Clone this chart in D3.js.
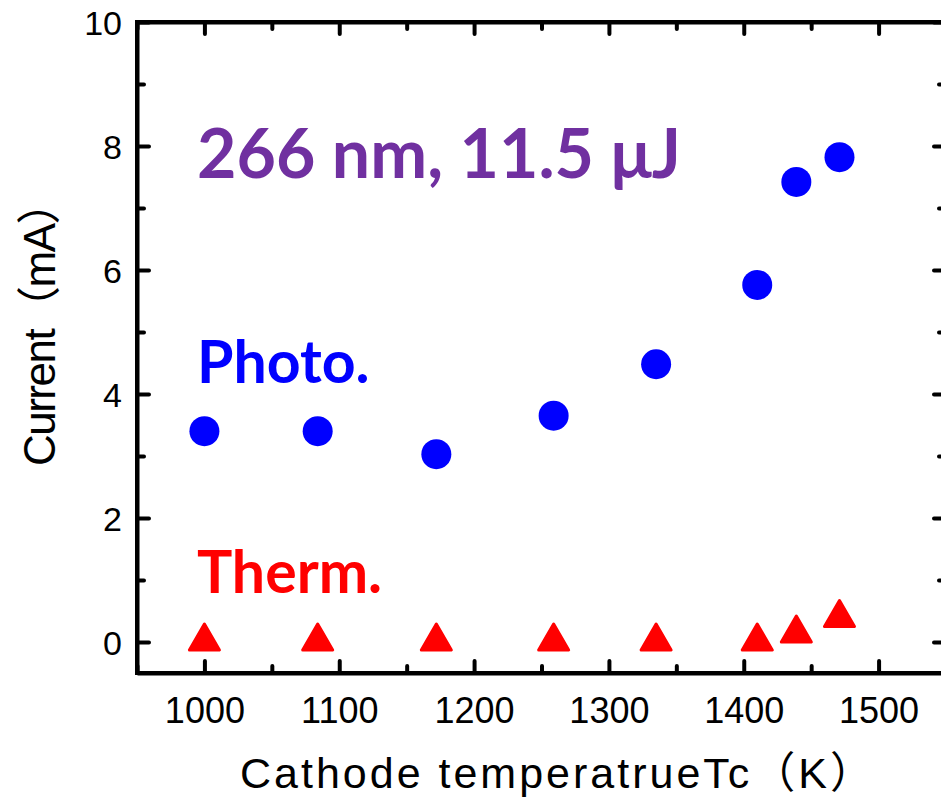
<!DOCTYPE html>
<html>
<head>
<meta charset="utf-8">
<script src="https://cdn.jsdelivr.net/npm/d3@7"></script>
<style>
  html, body { margin: 0; padding: 0; background: #fff; overflow: hidden; }
  svg { display: block; }
</style>
</head>
<body>
<script>
// ---- data ----
const photoTemps = [1000, 1084, 1172, 1259, 1335, 1410, 1439, 1471];
const photoCurrent = [3.40, 3.40, 3.03, 3.65, 4.48, 5.76, 7.42, 7.82];
const thermTemps = [1000, 1084, 1172, 1259, 1335, 1410, 1439, 1471];
const thermCurrent = [0.08, 0.08, 0.08, 0.08, 0.08, 0.08, 0.21, 0.46];
const xTicks = [1000, 1100, 1200, 1300, 1400, 1500];
const xMinorTicks = [950, 1050, 1150, 1250, 1350, 1450, 1550];
const yTicks = [0, 2, 4, 6, 8, 10];
const yMinorTicks = [1, 3, 5, 7, 9];
const xTitle = "Cathode temperatrueTc\uFF08K\uFF09";
const yTitle = "Current\uFF08mA\uFF09";
const annTitle = "266 nm, 11.5 \u03BCJ";
const annPhoto = "Photo.";
const annTherm = "Therm.";

const W = 941, H = 800;
const mLeft = 137, mRight = 946, mTop = 22, mBottom = 673;

const svg = d3.select("body").append("svg").attr("width", W).attr("height", H);

const x = d3.scaleLinear().domain([950, 1550]).range([mLeft, mRight]);
const y = d3.scaleLinear().domain([-0.5, 10]).range([mBottom, mTop]);

const axisColor = "#000";
const lw = 4;
const font = "'Liberation Sans', Arial, 'Noto Sans CJK JP', sans-serif";

function styleAxis(g) {
  g.selectAll("path.domain").attr("stroke", axisColor).attr("stroke-width", lw);
  g.selectAll(".tick line").attr("stroke", axisColor).attr("stroke-width", 4).attr("stroke-linecap", "round");
}

// bottom axis (ticks inward)
const gB = svg.append("g").attr("transform", `translate(0,${mBottom})`)
  .call(d3.axisBottom(x).tickValues(xTicks).tickSizeInner(-12).tickSizeOuter(0).tickFormat(d3.format("d")));
styleAxis(gB);
gB.selectAll(".tick text").attr("font-family", font).attr("font-size", 36).attr("fill", "#000")
  .attr("y", 50).attr("dy", 0);
svg.append("g").attr("transform", `translate(0,${mBottom})`)
  .call(d3.axisBottom(x).tickValues(xMinorTicks).tickSizeInner(-7).tickSizeOuter(0).tickFormat(""))
  .call(g => { g.select("path.domain").remove(); styleAxis(g); });

// top axis
const gT = svg.append("g").attr("transform", `translate(0,${mTop})`)
  .call(d3.axisTop(x).tickValues(xTicks).tickSizeInner(-12).tickSizeOuter(0).tickFormat(""));
styleAxis(gT);
svg.append("g").attr("transform", `translate(0,${mTop})`)
  .call(d3.axisTop(x).tickValues(xMinorTicks).tickSizeInner(-7).tickSizeOuter(0).tickFormat(""))
  .call(g => { g.select("path.domain").remove(); styleAxis(g); });

// left axis
const gL = svg.append("g").attr("transform", `translate(${mLeft},0)`)
  .call(d3.axisLeft(y).tickValues(yTicks).tickSizeInner(-12).tickSizeOuter(0).tickFormat(d3.format("d")));
styleAxis(gL);
gL.selectAll(".tick text").attr("font-family", font).attr("font-size", 34).attr("fill", "#000")
  .attr("x", -15).attr("dy", "0.36em");
svg.append("g").attr("transform", `translate(${mLeft},0)`)
  .call(d3.axisLeft(y).tickValues(yMinorTicks).tickSizeInner(-7).tickSizeOuter(0).tickFormat(""))
  .call(g => { g.select("path.domain").remove(); styleAxis(g); });

// right axis
const gR = svg.append("g").attr("transform", `translate(${mRight},0)`)
  .call(d3.axisRight(y).tickValues(yTicks).tickSizeInner(-12).tickSizeOuter(0).tickFormat(""));
styleAxis(gR);
svg.append("g").attr("transform", `translate(${mRight},0)`)
  .call(d3.axisRight(y).tickValues(yMinorTicks).tickSizeInner(-7).tickSizeOuter(0).tickFormat(""))
  .call(g => { g.select("path.domain").remove(); styleAxis(g); });

// frame with square corners
svg.append("rect").attr("x", mLeft).attr("y", mTop).attr("width", mRight - mLeft).attr("height", mBottom - mTop)
  .attr("fill", "none").attr("stroke", axisColor).attr("stroke-width", lw);

// axis titles
svg.append("text").attr("x", 558).attr("y", 788)
  .attr("text-anchor", "middle").attr("font-family", font).attr("font-size", 43)
  .attr("letter-spacing", 3).attr("fill", "#000")
  .text(xTitle);
svg.append("text").attr("transform", `translate(55,324) rotate(-90)`)
  .attr("text-anchor", "middle").attr("font-family", font).attr("font-size", 44)
  .attr("letter-spacing", -1.5).attr("fill", "#000")
  .text(yTitle);

// markers
const r = 15;
svg.append("g").selectAll("circle").data(photoTemps.map((t, i) => [t, photoCurrent[i]]))
  .join("circle").attr("cx", d => x(d[0])).attr("cy", d => y(d[1])).attr("r", r).attr("fill", "#0000FF");

const tw = 15, th = 13;
svg.append("g").selectAll("path").data(thermTemps.map((t, i) => [t, thermCurrent[i]]))
  .join("path")
  .attr("transform", d => `translate(${x(d[0])},${y(d[1])})`)
  .attr("d", `M0,${-th}L${tw},${th}L${-tw},${th}Z`)
  .attr("fill", "#FF0000").attr("stroke", "#FF0000").attr("stroke-width", 3).attr("stroke-linejoin", "round");

// annotations
const annFont = "Lato, 'Open Sans', 'Noto Sans', sans-serif";
svg.append("text").attr("x", 197).attr("y", 178).attr("font-family", annFont).attr("font-weight", "bold")
  .attr("font-size", 68).attr("fill", "#7030A0").text(annTitle);
svg.append("text").attr("x", 197).attr("y", 383).attr("font-family", annFont).attr("font-weight", "bold")
  .attr("font-size", 59).attr("fill", "#0000FF").text(annPhoto);
svg.append("text").attr("x", 197).attr("y", 593).attr("font-family", annFont).attr("font-weight", "bold")
  .attr("font-size", 59).attr("fill", "#FF0000").text(annTherm);
</script>
</body>
</html>
